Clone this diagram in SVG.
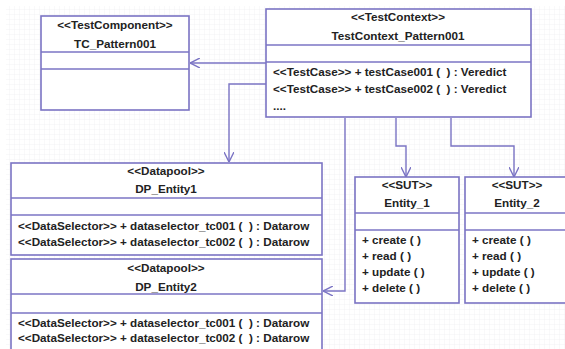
<svg xmlns="http://www.w3.org/2000/svg" width="565" height="349" viewBox="0 0 565 349">
<style>
.box{fill:#fff;stroke:#7b74c4;stroke-width:1.6}
.div{stroke:#7b74c4;stroke-width:1.4}
.con{fill:none;stroke:#7b74c4;stroke-width:1.4}
text{font-family:"Liberation Sans",Arial,sans-serif;font-weight:bold;font-size:11.7px;fill:#222;white-space:pre}
.c{text-anchor:middle}
</style>
<defs>
<pattern id="grid" width="5" height="5" patternUnits="userSpaceOnUse">
<path d="M5 0V5H0" fill="none" stroke="#ececf0" stroke-width="0.6"/>
</pattern>
<marker id="arr" viewBox="0 0 10 10" refX="10" refY="5" markerWidth="10" markerHeight="10" markerUnits="userSpaceOnUse" orient="auto">
<path d="M0 0L10 5L0 10" fill="none" stroke="#7b74c4" stroke-width="1.4"/>
</marker>
</defs>
<rect width="565" height="349" fill="#fff"/>
<rect x="6" y="6" width="559" height="343" fill="url(#grid)"/>
<g id="connectors">
<path class="con" d="M266 63H190" marker-end="url(#arr)"/>
<path class="con" d="M266 84H229V162" marker-end="url(#arr)"/>
<path class="con" d="M345 118V291H323" marker-end="url(#arr)"/>
<path class="con" d="M396 118V146H406V177" marker-end="url(#arr)"/>
<path class="con" d="M451 118V146H514V177" marker-end="url(#arr)"/>
</g>
<g id="TC_Pattern001">
<rect class="box" x="41" y="16" width="148" height="94"/>
<line class="div" x1="41" y1="52" x2="189" y2="52"/>
<line class="div" x1="41" y1="69" x2="189" y2="69"/>
<text class="c" x="115" y="29">&lt;&lt;TestComponent&gt;&gt;</text>
<text class="c" x="115" y="48">TC_Pattern001</text>
</g>
<g id="TestContext_Pattern001">
<rect class="box" x="266" y="9" width="265" height="108"/>
<line class="div" x1="266" y1="45" x2="531" y2="45"/>
<line class="div" x1="266" y1="62" x2="531" y2="62"/>
<text class="c" x="398" y="21">&lt;&lt;TestContext&gt;&gt;</text>
<text class="c" x="398" y="40">TestContext_Pattern001</text>
<text x="273" y="76">&lt;&lt;TestCase&gt;&gt; + testCase001 (  ) : Veredict</text>
<text x="273" y="93">&lt;&lt;TestCase&gt;&gt; + testCase002 (  ) : Veredict</text>
<text x="273" y="110">....</text>
</g>
<g id="DP_Entity1">
<rect class="box" x="11" y="163" width="311" height="92"/>
<line class="div" x1="11" y1="198" x2="322" y2="198"/>
<line class="div" x1="11" y1="215" x2="322" y2="215"/>
<text class="c" x="166" y="175">&lt;&lt;Datapool&gt;&gt;</text>
<text class="c" x="166" y="193">DP_Entity1</text>
<text x="18" y="230">&lt;&lt;DataSelector&gt;&gt; + dataselector_tc001 (  ) : Datarow</text>
<text x="18" y="246">&lt;&lt;DataSelector&gt;&gt; + dataselector_tc002 (  ) : Datarow</text>
</g>
<g id="DP_Entity2">
<rect class="box" x="11" y="259" width="311" height="100"/>
<line class="div" x1="11" y1="294" x2="322" y2="294"/>
<line class="div" x1="11" y1="313" x2="322" y2="313"/>
<text class="c" x="166" y="272">&lt;&lt;Datapool&gt;&gt;</text>
<text class="c" x="166" y="291">DP_Entity2</text>
<text x="18" y="327">&lt;&lt;DataSelector&gt;&gt; + dataselector_tc001 (  ) : Datarow</text>
<text x="18" y="342">&lt;&lt;DataSelector&gt;&gt; + dataselector_tc002 (  ) : Datarow</text>
</g>
<g id="Entity_1">
<rect class="box" x="355" y="177" width="104" height="126"/>
<line class="div" x1="355" y1="213" x2="459" y2="213"/>
<line class="div" x1="355" y1="230" x2="459" y2="230"/>
<text class="c" x="407" y="189">&lt;&lt;SUT&gt;&gt;</text>
<text class="c" x="407" y="207">Entity_1</text>
<text x="362" y="244">+ create ( )</text>
<text x="362" y="260">+ read ( )</text>
<text x="362" y="276">+ update ( )</text>
<text x="362" y="292">+ delete ( )</text>
</g>
<g id="Entity_2">
<rect class="box" x="465" y="177" width="110" height="126"/>
<line class="div" x1="465" y1="213" x2="575" y2="213"/>
<line class="div" x1="465" y1="230" x2="575" y2="230"/>
<text class="c" x="517" y="189">&lt;&lt;SUT&gt;&gt;</text>
<text class="c" x="517" y="207">Entity_2</text>
<text x="472" y="244">+ create ( )</text>
<text x="472" y="260">+ read ( )</text>
<text x="472" y="276">+ update ( )</text>
<text x="472" y="292">+ delete ( )</text>
</g>
</svg>
